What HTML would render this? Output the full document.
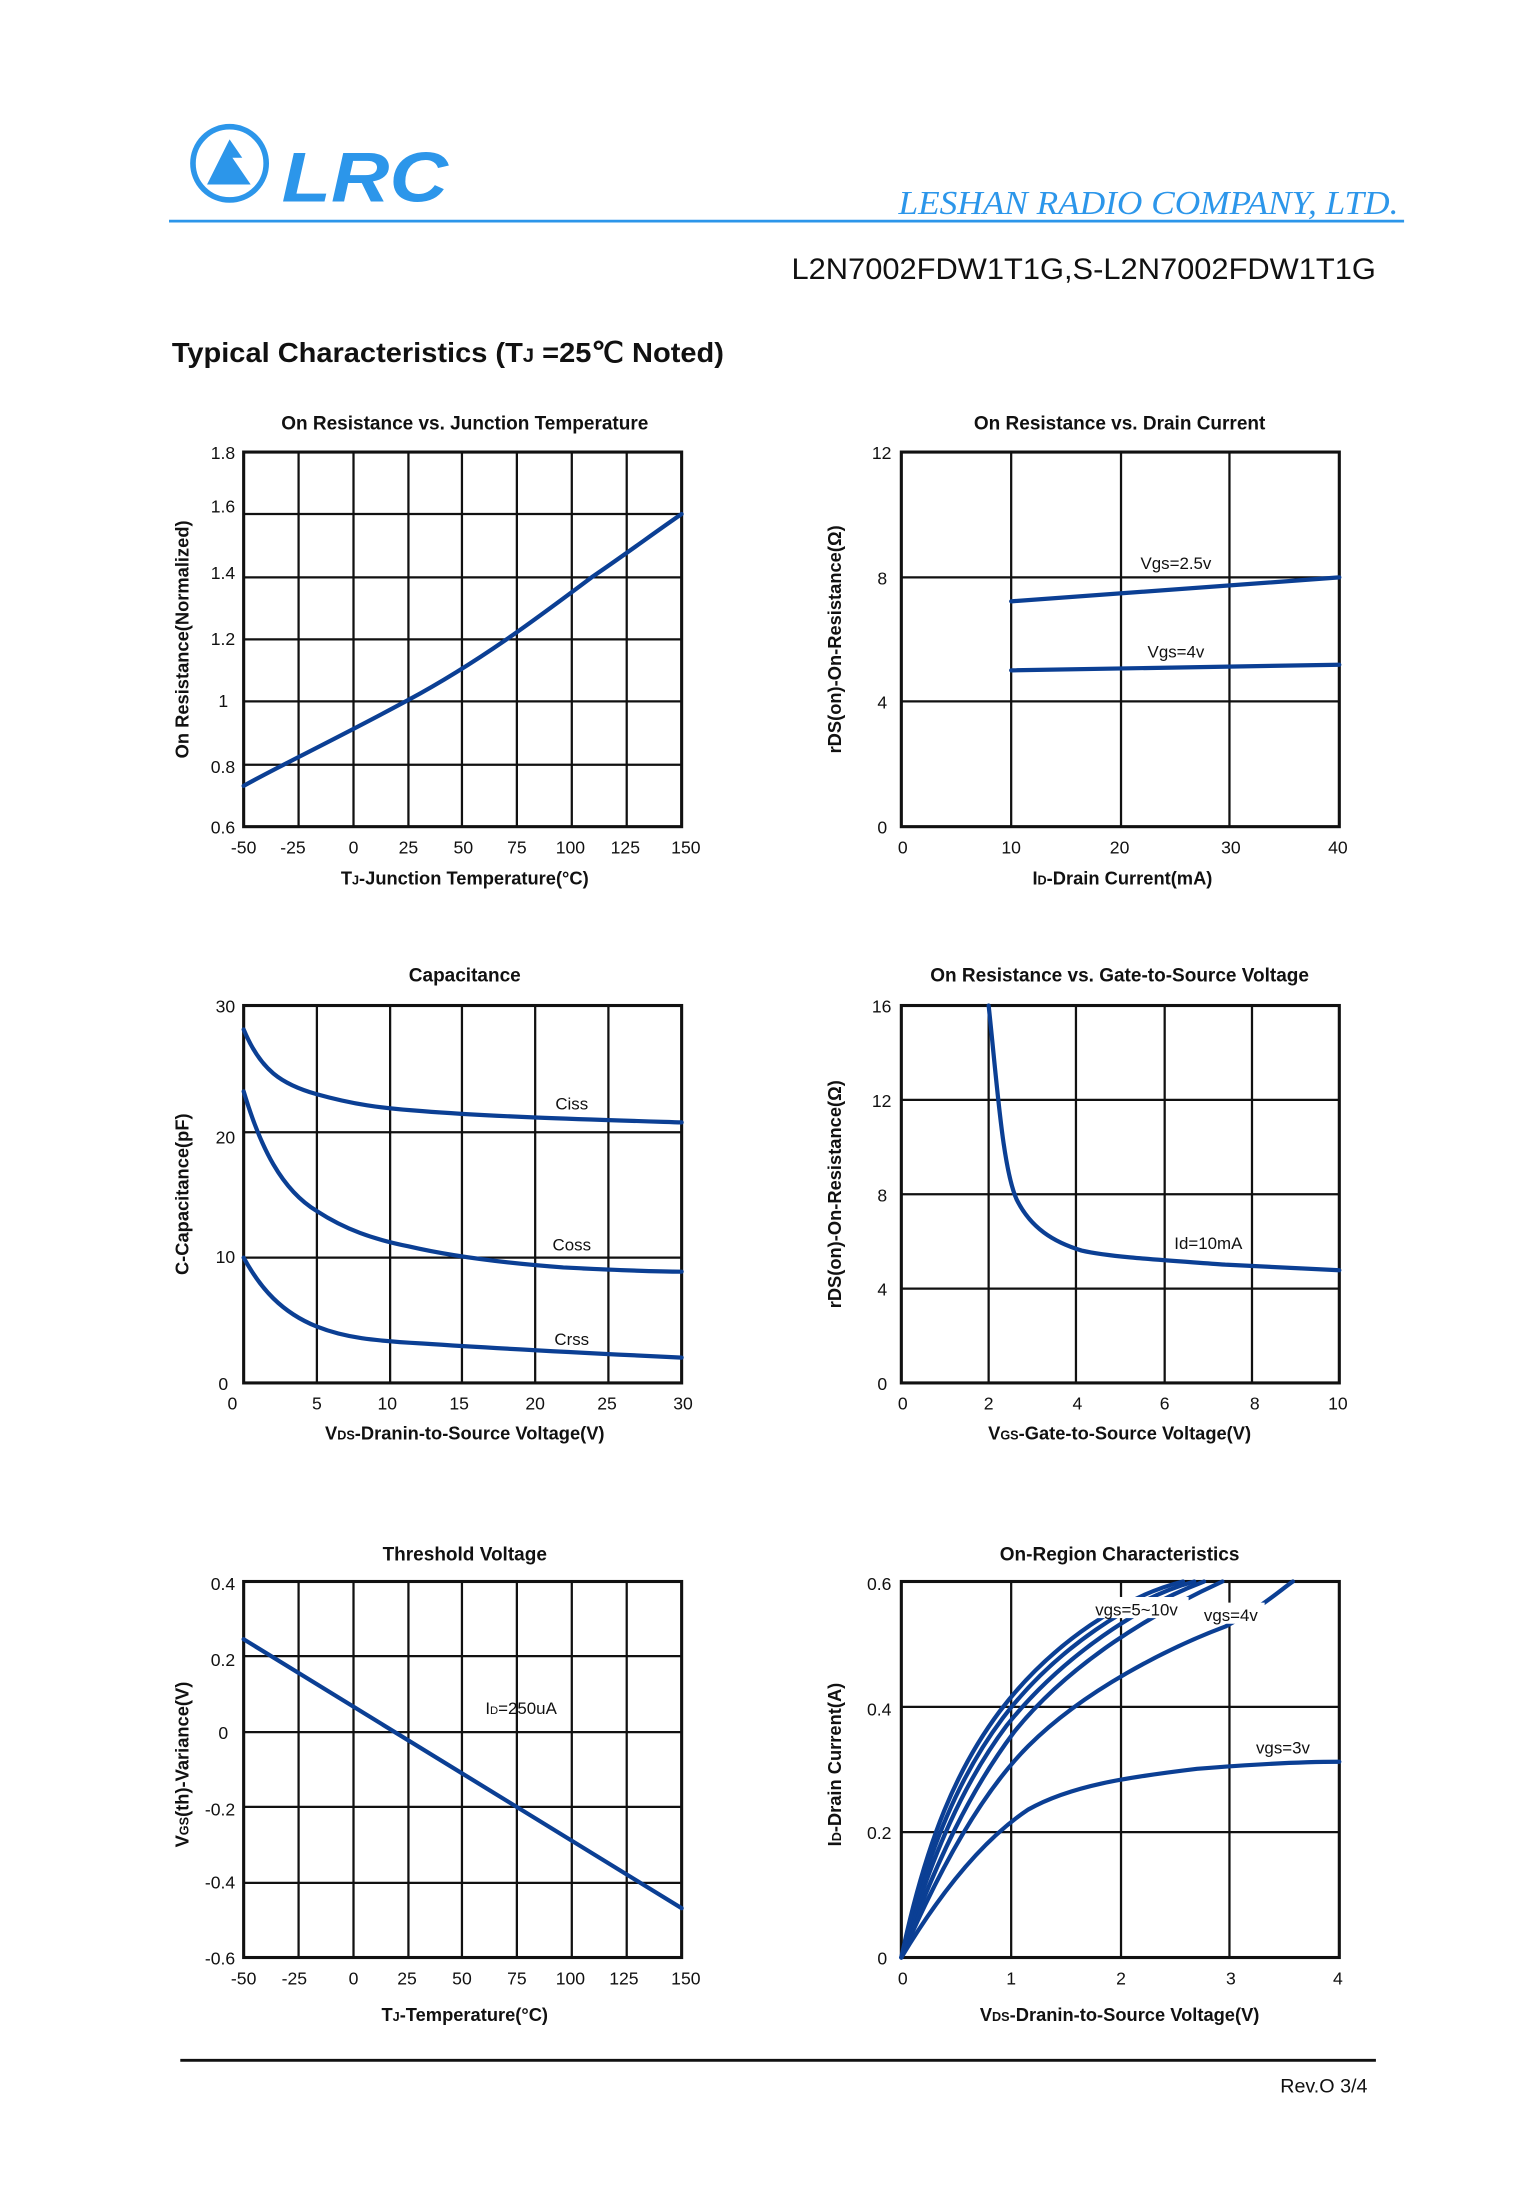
<!DOCTYPE html>
<html><head><meta charset="utf-8"><style>
html,body{margin:0;padding:0;background:#fff;}
svg{display:block;}
text{font-family:"Liberation Sans",Arial,sans-serif;fill:#111;}
.t{font-size:12.5px;}
.h{font-size:13.5px;font-weight:bold;}
.ax{font-size:13px;font-weight:bold;}
.g{stroke:#111;stroke-width:1.6;fill:none;}
.f{stroke:#111;stroke-width:2.2;fill:none;}
.c{stroke:#0b3f94;stroke-width:3;fill:none;stroke-linecap:round;}
.lb{font-size:12px;}
</style></head><body>
<svg width="1521" height="2211" viewBox="0 0 1080 1570" xmlns="http://www.w3.org/2000/svg">
<!-- header -->
<circle cx="163" cy="116" r="26" fill="none" stroke="#2c96ea" stroke-width="4"/>
<path d="M147 131 L163 99 L172 112 L165 112 L178 131 Z" fill="#2c96ea"/>
<text x="200" y="143" textLength="118" lengthAdjust="spacingAndGlyphs" style="font-size:50px;font-weight:bold;font-style:italic;fill:#2c96ea;">LRC</text>
<line x1="120" y1="157" x2="997" y2="157" stroke="#2c96ea" stroke-width="2"/>
<text x="638" y="152" textLength="355" lengthAdjust="spacingAndGlyphs" style="font-family:'Liberation Serif',serif;font-style:italic;font-size:24px;fill:#2c96ea">LESHAN RADIO COMPANY, LTD.</text>
<text x="562" y="198" textLength="415" lengthAdjust="spacingAndGlyphs" style="font-size:21px;">L2N7002FDW1T1G,S-L2N7002FDW1T1G</text>
<text x="122" y="257" textLength="392" lengthAdjust="spacingAndGlyphs" style="font-size:20px;font-weight:bold;">Typical Characteristics (T<tspan style="font-size:14px">J</tspan> =25℃ Noted)</text>

<!-- Chart 1 -->
<text x="330" y="305" text-anchor="middle" class="h">On Resistance vs. Junction Temperature</text>
<g class="g">
<path d="M212 321V587M251 321V587M290 321V587M328 321V587M367 321V587M406 321V587M445 321V587"/>
<path d="M173 365H484M173 410H484M173 454H484M173 498H484M173 543H484"/>
</g>
<rect x="173" y="321" width="311" height="266" class="f"/>
<path class="c" d="M173 558 C200 543 240 524 290 497 C340 470 380 440 420 410 C445 393 465 378 484 365"/>
<g class="t" text-anchor="end">
<text x="167" y="326">1.8</text><text x="167" y="364">1.6</text><text x="167" y="411">1.4</text><text x="167" y="458">1.2</text><text x="162" y="502">1</text><text x="167" y="549">0.8</text><text x="167" y="592">0.6</text>
</g>
<g class="t" text-anchor="middle">
<text x="173" y="606">-50</text><text x="208" y="606">-25</text><text x="251" y="606">0</text><text x="290" y="606">25</text><text x="329" y="606">50</text><text x="367" y="606">75</text><text x="405" y="606">100</text><text x="444" y="606">125</text><text x="487" y="606">150</text>
</g>
<text x="330" y="628" text-anchor="middle" class="ax">T<tspan style="font-size:9px">J</tspan>-Junction Temperature(°C)</text>
<text transform="translate(134,454) rotate(-90)" text-anchor="middle" class="ax">On Resistance(Normalized)</text>

<!-- Chart 2 -->
<text x="795" y="305" text-anchor="middle" class="h">On Resistance vs. Drain Current</text>
<g class="g">
<path d="M718 321V587M796 321V587M873 321V587"/>
<path d="M640 410H951M640 498H951"/>
</g>
<rect x="640" y="321" width="311" height="266" class="f"/>
<path class="c" d="M718 427L951 410"/>
<path class="c" d="M718 476L951 472"/>
<text x="835" y="404" text-anchor="middle" class="lb">Vgs=2.5v</text>
<text x="835" y="467" text-anchor="middle" class="lb">Vgs=4v</text>
<g class="t" text-anchor="end">
<text x="633" y="326">12</text><text x="630" y="415">8</text><text x="630" y="503">4</text><text x="630" y="592">0</text>
</g>
<g class="t" text-anchor="middle">
<text x="641" y="606">0</text><text x="718" y="606">10</text><text x="795" y="606">20</text><text x="874" y="606">30</text><text x="950" y="606">40</text>
</g>
<text x="797" y="628" text-anchor="middle" class="ax">I<tspan style="font-size:9px">D</tspan>-Drain Current(mA)</text>
<text transform="translate(597,454) rotate(-90)" text-anchor="middle" class="ax">rDS(on)-On-Resistance(Ω)</text>

<!-- Chart 3 -->
<text x="330" y="697" text-anchor="middle" class="h">Capacitance</text>
<g class="g">
<path d="M225 714V982M277 714V982M328 714V982M380 714V982M432 714V982"/>
<path d="M173 804H484M173 893H484"/>
</g>
<rect x="173" y="714" width="311" height="268" class="f"/>
<path class="c" d="M173 731 C185 760 200 770 225 777 C250 784 270 787 300 789 C350 793 420 795 484 797"/>
<path class="c" d="M173 775 C185 815 200 845 225 860 C245 873 265 880 290 885 C320 892 360 897 400 900 C440 902 470 903 484 903"/>
<path class="c" d="M173 893 C185 915 200 932 225 942 C245 950 265 952 300 954 C360 958 420 961 484 964"/>
<text x="406" y="788" text-anchor="middle" class="lb">Ciss</text>
<text x="406" y="888" text-anchor="middle" class="lb">Coss</text>
<text x="406" y="955" text-anchor="middle" class="lb">Crss</text>
<g class="t" text-anchor="end">
<text x="167" y="719">30</text><text x="167" y="812">20</text><text x="167" y="897">10</text><text x="162" y="987">0</text>
</g>
<g class="t" text-anchor="middle">
<text x="165" y="1001">0</text><text x="225" y="1001">5</text><text x="275" y="1001">10</text><text x="326" y="1001">15</text><text x="380" y="1001">20</text><text x="431" y="1001">25</text><text x="485" y="1001">30</text>
</g>
<text x="330" y="1022" text-anchor="middle" class="ax">V<tspan style="font-size:9px">DS</tspan>-Dranin-to-Source Voltage(V)</text>
<text transform="translate(134,848) rotate(-90)" text-anchor="middle" class="ax">C-Capacitance(pF)</text>

<!-- Chart 4 -->
<text x="795" y="697" text-anchor="middle" class="h">On Resistance vs. Gate-to-Source Voltage</text>
<g class="g">
<path d="M702 714V982M764 714V982M827 714V982M889 714V982"/>
<path d="M640 781H951M640 848H951M640 915H951"/>
</g>
<rect x="640" y="714" width="311" height="268" class="f"/>
<path class="c" d="M702 714 C708 770 712 830 722 852 C732 872 748 882 768 888 C790 893 830 895 870 898 C910 900 935 901 951 902"/>
<text x="858" y="887" text-anchor="middle" class="lb">Id=10mA</text>
<g class="t" text-anchor="end">
<text x="633" y="719">16</text><text x="633" y="786">12</text><text x="630" y="853">8</text><text x="630" y="920">4</text><text x="630" y="987">0</text>
</g>
<g class="t" text-anchor="middle">
<text x="641" y="1001">0</text><text x="702" y="1001">2</text><text x="765" y="1001">4</text><text x="827" y="1001">6</text><text x="891" y="1001">8</text><text x="950" y="1001">10</text>
</g>
<text x="795" y="1022" text-anchor="middle" class="ax">V<tspan style="font-size:9px">GS</tspan>-Gate-to-Source Voltage(V)</text>
<text transform="translate(597,848) rotate(-90)" text-anchor="middle" class="ax">rDS(on)-On-Resistance(Ω)</text>

<!-- Chart 5 -->
<text x="330" y="1108" text-anchor="middle" class="h">Threshold Voltage</text>
<g class="g">
<path d="M212 1123V1390M251 1123V1390M290 1123V1390M328 1123V1390M367 1123V1390M406 1123V1390M445 1123V1390"/>
<path d="M173 1176H484M173 1230H484M173 1283H484M173 1337H484"/>
</g>
<rect x="173" y="1123" width="311" height="267" class="f"/>
<path class="c" d="M173 1164L484 1355"/>
<text x="370" y="1217" text-anchor="middle" class="lb">I<tspan style="font-size:8px">D</tspan>=250uA</text>
<g class="t" text-anchor="end">
<text x="167" y="1129">0.4</text><text x="167" y="1183">0.2</text><text x="162" y="1235">0</text><text x="167" y="1289">-0.2</text><text x="167" y="1341">-0.4</text><text x="167" y="1395">-0.6</text>
</g>
<g class="t" text-anchor="middle">
<text x="173" y="1409">-50</text><text x="209" y="1409">-25</text><text x="251" y="1409">0</text><text x="289" y="1409">25</text><text x="328" y="1409">50</text><text x="367" y="1409">75</text><text x="405" y="1409">100</text><text x="443" y="1409">125</text><text x="487" y="1409">150</text>
</g>
<text x="330" y="1435" text-anchor="middle" class="ax">T<tspan style="font-size:9px">J</tspan>-Temperature(°C)</text>
<text transform="translate(134,1253) rotate(-90)" text-anchor="middle" class="ax">V<tspan style="font-size:9px">GS</tspan>(th)-Variance(V)</text>

<!-- Chart 6 -->
<text x="795" y="1108" text-anchor="middle" class="h">On-Region Characteristics</text>
<g class="g">
<path d="M718 1123V1390M796 1123V1390M873 1123V1390"/>
<path d="M640 1212H951M640 1301H951"/>
</g>
<rect x="640" y="1123" width="311" height="267" class="f"/>
<path class="c" d="M640 1390 C670 1340 700 1305 730 1285 C760 1268 800 1262 850 1256 C900 1252 930 1251 951 1251"/>
<path class="c" d="M640 1390 C670 1320 700 1270 730 1240 C770 1200 830 1170 870 1155 C895 1142 908 1130 918 1123"/>
<path class="c" d="M640 1390 C665 1320 690 1270 720 1230 C760 1180 820 1145 868 1123"/>
<path class="c" d="M640 1390 C662 1315 685 1265 715 1225 C755 1175 810 1140 855 1123"/>
<path class="c" d="M640 1390 C660 1310 682 1260 712 1220 C750 1170 805 1135 848 1123"/>
<path class="c" d="M640 1390 C658 1305 680 1255 710 1215 C748 1165 800 1133 840 1123"/>
<rect x="772" y="1134" width="72" height="15" fill="#fff"/>
<rect x="850" y="1138" width="48" height="15" fill="#fff"/>
<text x="807" y="1147" text-anchor="middle" class="lb">vgs=5~10v</text>
<text x="874" y="1151" text-anchor="middle" class="lb">vgs=4v</text>
<text x="911" y="1245" text-anchor="middle" class="lb">vgs=3v</text>
<g class="t" text-anchor="end">
<text x="633" y="1129">0.6</text><text x="633" y="1218">0.4</text><text x="633" y="1306">0.2</text><text x="630" y="1395">0</text>
</g>
<g class="t" text-anchor="middle">
<text x="641" y="1409">0</text><text x="718" y="1409">1</text><text x="796" y="1409">2</text><text x="874" y="1409">3</text><text x="950" y="1409">4</text>
</g>
<text x="795" y="1435" text-anchor="middle" class="ax">V<tspan style="font-size:9px">DS</tspan>-Dranin-to-Source Voltage(V)</text>
<text transform="translate(597,1253) rotate(-90)" text-anchor="middle" class="ax">I<tspan style="font-size:9px">D</tspan>-Drain Current(A)</text>

<!-- footer -->
<line x1="128" y1="1463" x2="977" y2="1463" stroke="#111" stroke-width="2"/>
<text x="971" y="1486" text-anchor="end" style="font-size:14px">Rev.O  3/4</text>
</svg>
</body></html>
